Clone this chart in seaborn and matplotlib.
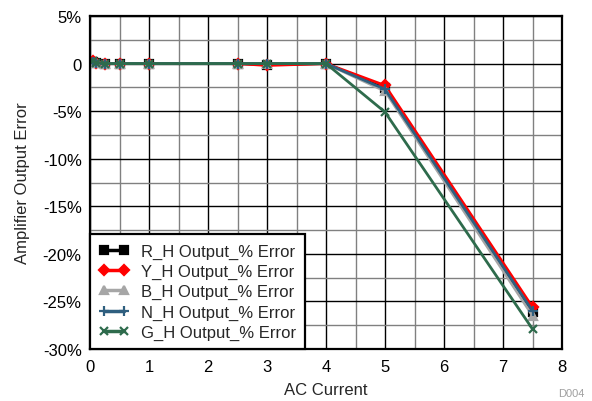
import matplotlib
matplotlib.use("Agg")
import matplotlib.pyplot as plt
import seaborn as sns
import pandas as pd
from matplotlib.ticker import MultipleLocator, FuncFormatter

sns.set_style("white")
plt.rcParams['font.family'] = ['Liberation Sans', 'DejaVu Sans']

current = [0.05, 0.1, 0.25, 0.5, 1, 2.5, 3, 4, 5, 7.5]
r_err = [0.2, 0.1, 0.0, 0.0, 0.0, 0.0, -0.1, 0.0, -2.6, -26.1]
y_err = [0.3, 0.1, 0.0, 0.0, 0.0, 0.0, -0.2, 0.0, -2.3, -25.6]
b_err = [0.2, 0.1, 0.0, 0.0, 0.0, 0.0, 0.0, 0.0, -2.9, -26.5]
n_err = [0.2, 0.1, 0.0, 0.0, 0.0, 0.0, 0.0, 0.0, -2.7, -26.0]
g_err = [0.3, 0.1, 0.0, 0.0, 0.0, 0.0, 0.0, 0.0, -5.1, -27.9]

names = ["R_H Output_% Error", "Y_H Output_% Error", "B_H Output_% Error",
         "N_H Output_% Error", "G_H Output_% Error"]
series = [r_err, y_err, b_err, n_err, g_err]
colors = ["#000000", "#FF0000", "#A6A6A6", "#2F5F7F", "#2E6B4C"]
markers = ["s", "D", "^", "+", "x"]
msizes = [5.5, 5, 6, 7, 6]

FS = 12

fig = plt.figure(figsize=(5.92, 4.02), dpi=100)
ax = fig.add_axes([90 / 592, 1 - 350 / 402, 472 / 592, 333 / 402])

ax.xaxis.set_minor_locator(MultipleLocator(0.5))
ax.yaxis.set_minor_locator(MultipleLocator(2.5))
ax.grid(which="major", color="#000000", linewidth=1.0)
ax.grid(which="minor", color="#808080", linewidth=1.0)
ax.set_axisbelow(True)

for name, vals, c, m, ms in zip(names, series, colors, markers, msizes):
    df = pd.DataFrame({"AC Current": current, "Error": vals})
    sns.lineplot(data=df, x="AC Current", y="Error", color=c, marker=m,
                 linewidth=2, markersize=ms, markeredgewidth=1.6,
                 markerfacecolor=c, markeredgecolor=c, ax=ax, label=name,
                 legend=False)

ax.set_xlim(0, 8)
ax.set_ylim(-30, 5)
ax.xaxis.set_major_locator(MultipleLocator(1))
ax.yaxis.set_major_locator(MultipleLocator(5))
ax.yaxis.set_major_formatter(FuncFormatter(lambda v, p: "0" if abs(v) < 1e-9 else f"{v:.0f}%"))
ax.tick_params(axis="both", which="both", length=0, labelsize=FS, colors="#000000")
ax.tick_params(axis="y", pad=6)
ax.tick_params(axis="x", pad=7)

for s in ax.spines.values():
    s.set_color("#000000")
    s.set_linewidth(1.6)

ax.set_xlabel("AC Current", fontsize=FS, labelpad=6)
ax.set_ylabel("Amplifier Output Error", fontsize=FS, labelpad=9)

handles = [plt.Line2D([], [], color=c, marker=m, linewidth=2.5, markersize=ms,
                      markeredgewidth=1.6, markerfacecolor=c, markeredgecolor=c)
           for c, m, ms in zip(colors, markers, msizes)]
leg = ax.legend(handles, names, loc="lower left", bbox_to_anchor=(0, 0), numpoints=2,
                fontsize=FS, frameon=True, fancybox=False, framealpha=1,
                edgecolor="#000000", borderaxespad=0, handlelength=1.8,
                labelspacing=0.31, handletextpad=0.7, borderpad=0.55)
leg.get_frame().set_linewidth(1.6)

fig.text(558 / 592, 1 - 399 / 402, "D004", fontsize=8, color="#A0A0A0", ha="left", va="bottom")

fig.savefig("out.png", dpi=100)
